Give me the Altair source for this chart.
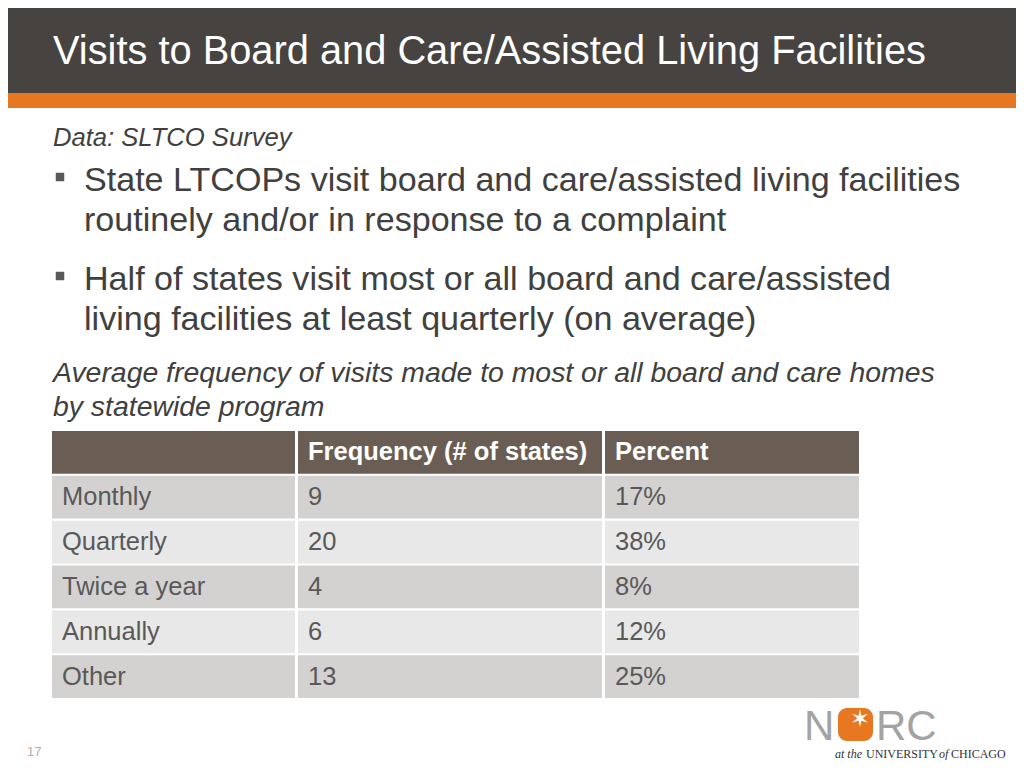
import altair as alt
import pandas as pd

# ---- content ----
title = "Visits to Board and Care/Assisted Living Facilities"
source_note = "Data: SLTCO Survey"
bullet1 = ["State LTCOPs visit board and care/assisted living facilities",
           "routinely and/or in response to a complaint"]
bullet2 = ["Half of states visit most or all board and care/assisted",
           "living facilities at least quarterly (on average)"]
caption = ["Average frequency of visits made to most or all board and care homes",
           "by statewide program"]
header = ["", "Frequency (# of states)", "Percent"]
categories = ["Monthly", "Quarterly", "Twice a year", "Annually", "Other"]
frequency = [9, 20, 4, 6, 13]
percent = [17, 38, 8, 12, 25]
page_number = "17"

# ---- table frame ----
keys = ["header"] + categories
table = pd.DataFrame({
    "key": keys,
    "c1": [header[0]] + categories,
    "c2": [header[1]] + [str(v) for v in frequency],
    "c3": [header[2]] + [f"{v}%" for v in percent],
})
row_colors = ["#6a5e54", "#d3d2d1", "#e8e8e8", "#d3d2d1", "#e8e8e8", "#d3d2d1"]

one = pd.DataFrame({"a": [0]})
FONT = "Liberation Sans"
TXT = "#404040"
M = 8  # page margin: layout below is given in page pixels


def px(v):
    return alt.value(v - M)


yscale = alt.Scale(domain=keys, range=[431 - M, 698 - M], paddingInner=0.05, paddingOuter=0)
Y = alt.Y("key:N", scale=yscale, axis=None)

layers = []

# header band
layers.append(alt.Chart(one).mark_rect(color="#474341").encode(
    x=px(0), x2=px(1024), y=px(0), y2=px(93)))
layers.append(alt.Chart(one).mark_rect(color="#e87722").encode(
    x=px(0), x2=px(1024), y=px(93), y2=px(108)))
layers.append(alt.Chart(one).mark_text(text=title, font=FONT, fontSize=39.8, color="white",
                                       align="left", baseline="alphabetic").encode(
    x=px(53), y=px(64)))

# source note
layers.append(alt.Chart(one).mark_text(text=source_note, font=FONT, fontSize=25.6, fontStyle="italic",
                                       color=TXT, align="left", baseline="alphabetic").encode(
    x=px(53), y=px(146)))

# bullets
for by, lines in ((177, bullet1), (276, bullet2)):
    layers.append(alt.Chart(one).mark_square(size=72, color="#595959", opacity=1).encode(
        x=px(60), y=px(by)))
    for i, line in enumerate(lines):
        layers.append(alt.Chart(one).mark_text(text=line, font=FONT, fontSize=34.1, color=TXT,
                                               align="left", baseline="alphabetic").encode(
            x=px(84), y=px(by + 14 + 40 * i)))

# caption
for i, line in enumerate(caption):
    layers.append(alt.Chart(one).mark_text(text=line, font=FONT, fontSize=28.4, fontStyle="italic",
                                           color=TXT, align="left", baseline="alphabetic").encode(
        x=px(53), y=px(382 + 34 * i)))

# table
base = alt.Chart(table)
layers.append(base.mark_rect().encode(
    y=Y, x=px(52), x2=px(859),
    color=alt.Color("key:N", scale=alt.Scale(domain=keys, range=row_colors), legend=None)))
for sx in (296.5, 603.5):
    layers.append(alt.Chart(one).mark_rule(color="white", strokeWidth=3).encode(
        x=px(sx), y=px(431), y2=px(698)))

body = base.transform_filter(alt.datum.key != "header")
head = base.transform_filter(alt.datum.key == "header")
for col, cx in (("c1", 62), ("c2", 308), ("c3", 615)):
    layers.append(body.mark_text(font=FONT, fontSize=25.5, color="#595959", align="left",
                                 baseline="middle").encode(y=Y, x=px(cx), text=f"{col}:N"))
    layers.append(head.mark_text(font=FONT, fontSize=25.5, fontWeight="bold", color="white",
                                 align="left", baseline="middle").encode(y=Y, x=px(cx), text=f"{col}:N"))

# page number
layers.append(alt.Chart(one).mark_text(text=page_number, font=FONT, fontSize=13, color="#b0b0b0",
                                       align="left", baseline="alphabetic").encode(
    x=px(27), y=px(756)))

# NORC logo
GRAY = "#a3a3a3"
layers.append(alt.Chart(one).mark_text(text="N", font=FONT, fontSize=42, color=GRAY,
                                       align="left", baseline="alphabetic").encode(
    x=px(804), y=px(740)))
layers.append(alt.Chart(one).mark_rect(color="#e87722", cornerRadius=9).encode(
    x=px(838), x2=px(873), y=px(708), y2=px(741)))
layers.append(alt.Chart(one).mark_text(text="✶", font="DejaVu Sans", fontSize=24, color="white",
                                       align="center", baseline="middle").encode(
    x=px(860), y=px(720)))
layers.append(alt.Chart(one).mark_text(text="RC", font=FONT, fontSize=42, color=GRAY,
                                       align="left", baseline="alphabetic").encode(
    x=px(876), y=px(740)))
for txt, lx, style, fs in (("at the", 835, "italic", 12), ("UNIVERSITY", 866, "normal", 12),
                           ("of", 939, "italic", 12), ("CHICAGO", 951, "normal", 12)):
    layers.append(alt.Chart(one).mark_text(text=txt, font="Liberation Serif", fontSize=fs,
                                           fontStyle=style, color="#333333",
                                           align="left", baseline="alphabetic").encode(
        x=px(lx), y=px(758)))

chart = alt.layer(*layers).properties(
    width=1024 - 2 * M, height=768 - 2 * M, padding=0, autosize="none", background="white",
).configure_view(stroke=None)

chart.save("out.html", embed_options={"renderer": "svg", "actions": False})
